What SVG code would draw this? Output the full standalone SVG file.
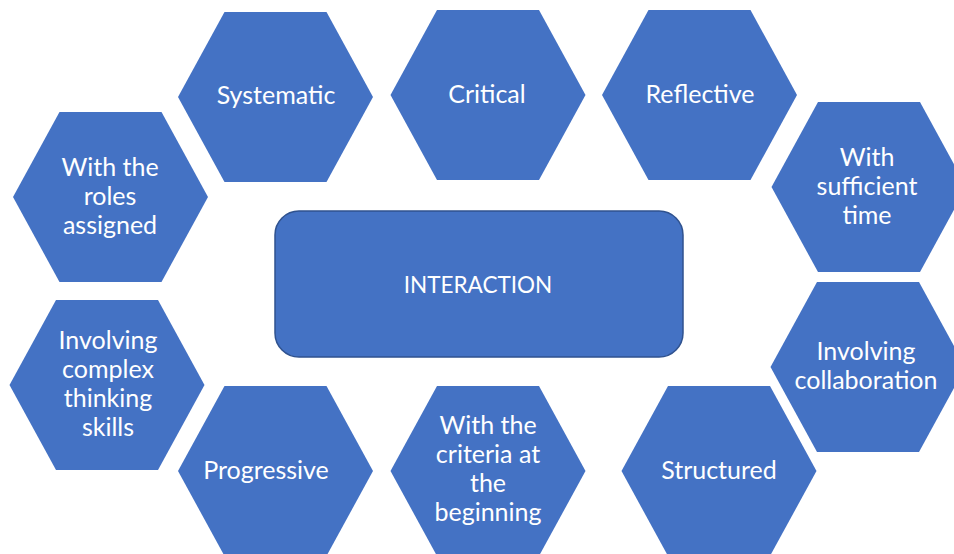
<svg xmlns="http://www.w3.org/2000/svg" width="954" height="554" viewBox="0 0 954 554">
<defs>
<style>
.hex{fill:#4472c4;}
.box{fill:#4472c4;stroke:#2f528f;stroke-width:1.5;}
.t{fill:#ffffff;font-family:Lato,"Open Sans","Liberation Sans",sans-serif;font-size:25px;text-anchor:middle;}
.tc{font-size:22.5px;}
</style>
<polygon id="hx" points="-97.5,0 -51,-85 51,-85 97.5,0 51,85 -51,85"/>
</defs>
<rect width="954" height="554" fill="#ffffff"/>
<g id="connectors"></g>
<g id="n-interaction">
<rect class="box" x="275" y="211" width="408" height="146" rx="24" ry="24"/>
<text class="t tc" x="478" y="293">INTERACTION</text>
</g>
<g id="n-systematic">
<use href="#hx" class="hex" x="275.5" y="97"/>
<text class="t" x="276" y="104">Systematic</text>
</g>
<g id="n-critical">
<use href="#hx" class="hex" x="488" y="95"/>
<text class="t" x="487" y="103">Critical</text>
</g>
<g id="n-reflective">
<use href="#hx" class="hex" x="699.5" y="95"/>
<text class="t" x="700" y="103">Reflective</text>
</g>
<g id="n-time">
<use href="#hx" class="hex" x="869" y="187"/>
<text class="t" x="867" y="166">With</text>
<text class="t" x="867" y="195">sufficient</text>
<text class="t" x="867" y="224">time</text>
</g>
<g id="n-roles">
<use href="#hx" class="hex" x="110.5" y="197"/>
<text class="t" x="110" y="176">With the</text>
<text class="t" x="110" y="205">roles</text>
<text class="t" x="110" y="234">assigned</text>
</g>
<g id="n-complex">
<use href="#hx" class="hex" x="107" y="385"/>
<text class="t" x="108" y="349">Involving</text>
<text class="t" x="108" y="378">complex</text>
<text class="t" x="108" y="407">thinking</text>
<text class="t" x="108" y="436">skills</text>
</g>
<g id="n-progressive">
<use href="#hx" class="hex" x="275.5" y="471"/>
<text class="t" x="266" y="479">Progressive</text>
</g>
<g id="n-criteria">
<use href="#hx" class="hex" x="488" y="471"/>
<text class="t" x="488" y="434">With the</text>
<text class="t" x="488" y="463">criteria at</text>
<text class="t" x="488" y="492">the</text>
<text class="t" x="488" y="521">beginning</text>
</g>
<g id="n-structured">
<use href="#hx" class="hex" x="719" y="471"/>
<text class="t" x="719" y="479">Structured</text>
</g>
<g id="n-collaboration">
<use href="#hx" class="hex" x="868" y="367"/>
<text class="t" x="866" y="360">Involving</text>
<text class="t" x="866" y="389">collaboration</text>
</g>
</svg>
